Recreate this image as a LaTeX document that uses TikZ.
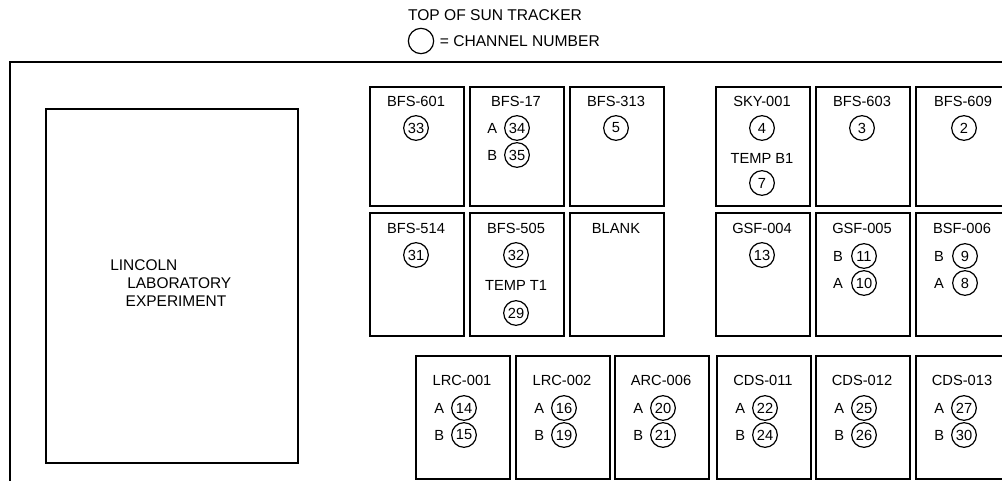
\documentclass[tikz,border=0pt]{standalone}
\usepackage{fontspec}
\setmainfont{Liberation Sans}
\usetikzlibrary{positioning}

\begin{document}
\begin{tikzpicture}[x=0.75pt, y=-0.75pt, inner sep=0pt,
    font=\fontsize{11}{13}\selectfont,
    bay/.style={draw, line width=1.3pt, anchor=north west, minimum width=70.5pt},
    tall/.style={bay, minimum height=89.25pt},
    deep/.style={bay, minimum height=92.25pt},
    chan/.style={draw, circle, line width=0.9pt, minimum size=18.5pt}]
  \useasboundingbox (0,0) rectangle (1002,481);

  % header
  \node[font=\fontsize{11.7}{14}\selectfont] (hdr) at (495,15) {TOP OF SUN TRACKER};
  \node[chan, minimum size=19pt] (legend) at (421,41) {};
  \node[right=4pt of legend, font=\fontsize{11.7}{14}\selectfont] (legtxt) {= CHANNEL NUMBER};

  % frame of the tracker top
  \coordinate (fnw) at (10,62);
  \draw[line width=1.3pt] (fnw |- 0,481) -- (fnw) -- (1002,62);

  % experiment
  \node[bay, minimum width=189pt, minimum height=265.5pt] (lincoln) at (45,108) {};
  \node[anchor=north west, align=left, font=\fontsize{11.6}{13.5}\selectfont] (lltxt) at (110,259)
    {LINCOLN\\\hspace*{1.1em}LABORATORY\\\hspace*{1em}EXPERIMENT};

  % upper row
  \node[tall] (b601) at (369,86) {};
  \node (b601t) at (416,101) {BFS-601};
  \node[chan] (c33) at (416,128) {33};

  \node[tall] (b17) at (469,86) {};
  \node (b17t) at (516,101) {BFS-17};
  \node[chan] (c34) at (517,128) {34};
  \node[chan] (c35) at (517,155) {35};
  \node[left=5pt of c34] (a34) {A};
  \node[left=5pt of c35] (b35) {B};

  \node[tall] (b313) at (569,86) {};
  \node (b313t) at (616,101) {BFS-313};
  \node[chan] (c5) at (616,128) {5};

  \node[tall] (sky) at (715,86) {};
  \node (skyt) at (762,101) {SKY-001};
  \node[chan] (c4) at (762,128) {4};
  \node (tb1) at (762,158) {TEMP B1};
  \node[chan] (c7) at (762,183) {7};

  \node[tall] (b603) at (815,86) {};
  \node (b603t) at (862,101) {BFS-603};
  \node[chan] (c3) at (862,128) {3};

  \node[tall] (b609) at (915,86) {};
  \node (b609t) at (963,101) {BFS-609};
  \node[chan] (c2) at (964,128) {2};

  % middle row
  \node[deep] (b514) at (369,212) {};
  \node (b514t) at (416,228) {BFS-514};
  \node[chan] (c31) at (416,255) {31};

  \node[deep] (b505) at (469,212) {};
  \node (b505t) at (516,228) {BFS-505};
  \node[chan] (c32) at (516,255) {32};
  \node (tt1) at (516,285) {TEMP T1};
  \node[chan] (c29) at (516,313) {29};

  \node[deep] (blank) at (569,212) {};
  \node (blankt) at (616,228) {BLANK};

  \node[deep] (g004) at (715,212) {};
  \node (g004t) at (762,228) {GSF-004};
  \node[chan] (c13) at (762,255) {13};

  \node[deep] (g005) at (815,212) {};
  \node (g005t) at (862,228) {GSF-005};
  \node[chan] (c11) at (864,256) {11};
  \node[chan] (c10) at (864,283) {10};
  \node[left=6pt of c11] (b11) {B};
  \node[left=6pt of c10] (a10) {A};

  \node[deep] (b006) at (915,212) {};
  \node (b006t) at (962,228) {BSF-006};
  \node[chan] (c9) at (965,256) {9};
  \node[chan] (c8) at (965,283) {8};
  \node[left=6pt of c9] (b9) {B};
  \node[left=6pt of c8] (a8) {A};

  % lower row
  \foreach \x/\name/\a/\b in {415/LRC-001/14/15, 515/LRC-002/16/19,
      614/ARC-006/20/21, 716/CDS-011/22/24, 815/CDS-012/25/26, 915/CDS-013/27/30}{
    \node[deep] (low\a) at (\x,355) {};
    \node (low\a t) at (\x+47,380) {\name};
    \node[chan] (c\a) at (\x+49,408) {\a};
    \node[chan] (c\b) at (\x+49,435) {\b};
    \node[left=5pt of c\a] (a\a) {A};
    \node[left=5pt of c\b] (b\b) {B};
  }
\end{tikzpicture}
\end{document}
